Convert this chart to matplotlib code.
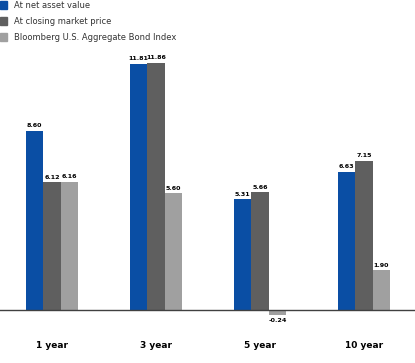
import numpy as np
import matplotlib.pyplot as plt
from matplotlib.patches import Patch

plt.rcParams['font.family'] = ['Liberation Sans Narrow', 'DejaVu Sans Condensed', 'DejaVu Sans']

periods = ['1 year', '3 year', '5 year', '10 year']
series = ['At net asset value', 'At closing market price', 'Bloomberg U.S. Aggregate Bond Index']
nav = [8.60, 11.81, 5.31, 6.63]
market = [6.12, 11.86, 5.66, 7.15]
index = [6.16, 5.60, -0.24, 1.90]
colors = ['#0A4EA4', '#5F5F5F', '#A0A0A0']

fig = plt.figure(figsize=(4.15, 3.63), dpi=100)
ax = fig.add_axes([0, 0, 1, 1])

x = np.arange(len(periods))
w = 0.168
for i, (vals, c) in enumerate(zip([nav, market, index], colors)):
    xs = x + (i - 1) * w
    ax.bar(xs, vals, width=w, color=c, zorder=2)
    for xi, v in zip(xs, vals):
        if v >= 0:
            ax.text(xi, v + 0.12, '%.2f' % v, ha='center', va='bottom', fontsize=4.6, fontweight='bold')
        else:
            ax.text(xi, v - 0.12, '%.2f' % v, ha='center', va='top', fontsize=4.6, fontweight='bold')

ax.axhline(0, color='#404040', lw=1, zorder=3)

for xi, p in zip(x, periods):
    ax.text(xi, -1.68, p, ha='center', va='center', fontsize=6.5, fontweight='bold')

ax.set_xlim(-0.5, 3.49)
ax.set_ylim(-2.54, 14.87)
ax.axis('off')

handles = [Patch(color=c) for c in colors]
leg = ax.legend(handles, series, loc='upper left', bbox_to_anchor=(-0.008, 1.006), frameon=False,
                fontsize=6, handlelength=0.85, handleheight=1.1, handletextpad=0.8, labelspacing=0.85,
                borderaxespad=0)
for t in leg.get_texts():
    t.set_color('#333333')

fig.savefig('out.png', dpi=100)
